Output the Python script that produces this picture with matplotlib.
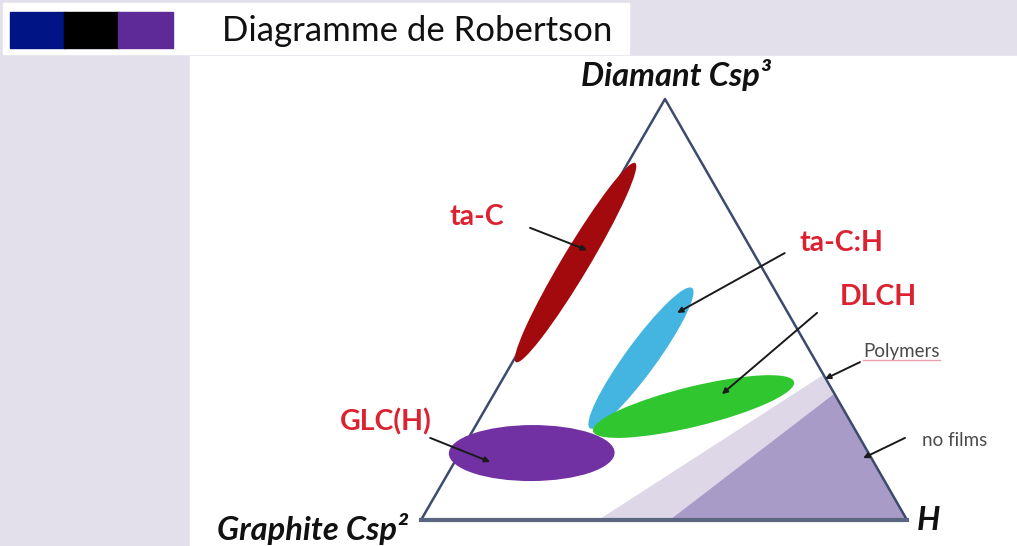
import numpy as np
import matplotlib
matplotlib.use("Agg")
from matplotlib import pyplot as plt
from matplotlib.patches import Ellipse, Polygon, Rectangle

plt.rcParams['font.family'] = ['Lato', 'DejaVu Sans']

# Robertson ternary diagram: compositions as (fraction sp3, fraction H)
# Corner labels
corner_labels = ["Graphite Csp²", "Diamant Csp³", "H"]

# Film families: name, two end points of the region (sp3, H), width of region
region_names = ["ta-C", "ta-C:H", "DLCH", "GLC(H)"]
region_start = [(0.375, 0.007), (0.218, 0.238), (0.211, 0.248), (0.158, -0.022)]
region_end = [(0.848, 0.015), (0.551, 0.281), (0.328, 0.603), (0.160, 0.318)]
region_width = [27, 31, 40, 56]
region_colour = ["#a30a0d", "#43b5e0", "#2fc630", "#7131a2"]
# label position, arrow tail and arrow tip (sp3, H)
label_pos = [(0.720, -0.246), (0.658, 0.534), (0.530, 0.674), (0.233, -0.189)]
arrow_tail = [(0.694, -0.124), (0.634, 0.430), (0.492, 0.568), (0.195, -0.079)]
arrow_tip = [(0.641, 0.020), (0.492, 0.280), (0.299, 0.469), (0.138, 0.073)]

# Zones near the H corner
polymer_zone = [(0.0, 0.365), (0.345, 0.655), (0.0, 1.0)]
nofilm_zone = [(0.0, 0.512), (0.300, 0.700), (0.0, 1.0)]
zone_names = ["Polymers", "no films"]
zone_label_pos = [(0.401, 0.708), (0.190, 0.935)]
zone_tail = [(0.375, 0.715), (0.195, 0.898)]
zone_arrow_tip = [(0.335, 0.663), (0.147, 0.836)]

# Pixel frame of the triangle (Graphite, Diamant, H corners)
G = np.array([421.0, 520.0])
D = np.array([665.0, 99.0])
Hc = np.array([907.0, 520.0])


def tern(p):
    a, h = p
    return G + a * (D - G) + h * (Hc - G)


W, Hpx = 1017, 546
fig = plt.figure(figsize=(W / 100, Hpx / 100), dpi=100)
ax = fig.add_axes([0, 0, 1, 1])
ax.set_xlim(0, W)
ax.set_ylim(Hpx, 0)
ax.axis("off")

lav = "#e3dfeb"
fig.patch.set_facecolor(lav)
# white picture area and title box
ax.add_patch(Rectangle((190, 56), W - 190, Hpx - 56, color="white", zorder=0))
ax.add_patch(Rectangle((3, 3), 626, 51, color="white", zorder=0))
for x0, c in zip([10, 64, 118], ["#001485", "#000000", "#5e2a97"]):
    ax.add_patch(Rectangle((x0, 12), 55, 36, color=c, zorder=1))
ax.text(222, 31, "Diagramme de Robertson", fontsize=25, va="center", ha="left",
        color="#111111")

# zones
ax.add_patch(Polygon([tern(p) for p in polymer_zone], closed=True,
                     facecolor="#ddd7e7", edgecolor="none", zorder=1))
ax.add_patch(Polygon([tern(p) for p in nofilm_zone], closed=True,
                     facecolor="#a99bc7", edgecolor="none", zorder=1.5))

# triangle outline
tri = np.array([G, D, Hc, G])
ax.plot(tri[:, 0], tri[:, 1], color="#3d4a6c", lw=1.8, zorder=2)
ax.plot([G[0], Hc[0]], [G[1], Hc[1]], color="#5a6580", lw=3, zorder=2)

# regions
for name, s, e, w, c in zip(region_names, region_start, region_end,
                            region_width, region_colour):
    p0, p1 = tern(s), tern(e)
    cen = (p0 + p1) / 2
    d = p1 - p0
    ell = Ellipse(cen, np.hypot(*d), w, angle=np.degrees(np.arctan2(d[1], d[0])),
                  facecolor=c, edgecolor="none", zorder=3)
    ax.add_patch(ell)

arrow_style = dict(arrowstyle="-|>", color="#1a1a1a", lw=1.4,
                   mutation_scale=8, shrinkA=0, shrinkB=0)

# region labels and arrows
for name, lp, tail, tip in zip(region_names, label_pos, arrow_tail, arrow_tip):
    lx, ly = tern(lp)
    ax.text(lx, ly, name, color="#dc2230", fontsize=20.5, fontweight="bold",
            ha="center", va="center", zorder=5)
    ax.annotate("", xy=tern(tip), xytext=tern(tail), arrowprops=arrow_style,
                zorder=4)

# zone labels and arrows
for name, lp, tail, tip in zip(zone_names, zone_label_pos, zone_tail, zone_arrow_tip):
    lx, ly = tern(lp)
    t = ax.text(lx, ly, name, color="#4a4a4a", fontsize=13.5, ha="left",
                va="center", zorder=5)
    ax.annotate("", xy=tern(tip), xytext=tern(tail), arrowprops=arrow_style,
                zorder=4)

# faint spell-check underline under "Polymers"
px, py = tern(zone_label_pos[0])
ax.plot([px, px + 77], [py + 9, py + 9], color="#e8a0b0", lw=1, zorder=5)

# corner labels
corner_pos = [(312, 529), (676, 75), (928, 521)]
for lab, (x, y) in zip(corner_labels, corner_pos):
    ax.text(x, y, lab, fontsize=23.5, fontweight="bold", fontstyle="italic",
            ha="center", va="center", color="#111111", zorder=5)

fig.savefig("out.png", dpi=100, facecolor=lav)
